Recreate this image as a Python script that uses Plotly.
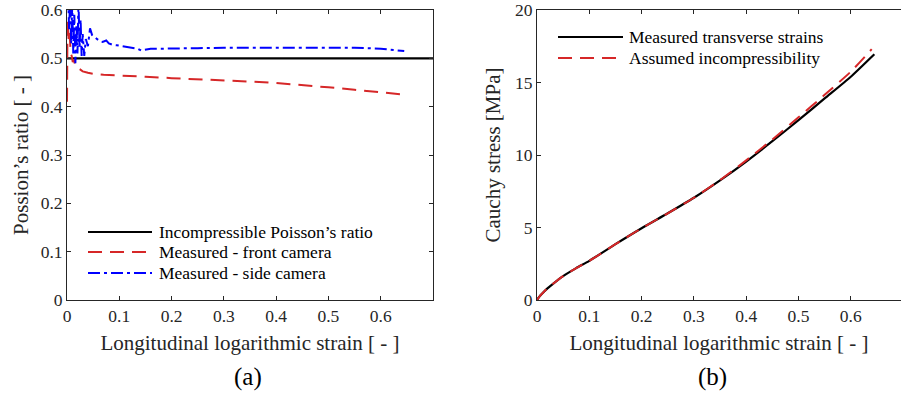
import plotly.graph_objects as go

# ---------------- data ----------------
# Panel (a): Poisson's ratio vs longitudinal log strain
x_incomp = [0.0, 0.7]
v_incomp = [0.5, 0.5]

x_front = [0.0, 0.001, 0.003, 0.005, 0.007, 0.009, 0.011, 0.013, 0.016, 0.02, 0.025, 0.03,
           0.04, 0.05, 0.07, 0.1, 0.15, 0.2, 0.25, 0.3, 0.35, 0.4, 0.45, 0.5, 0.55, 0.6, 0.645]
v_front = [0.41, 0.58, 0.54, 0.555, 0.51, 0.505, 0.492, 0.497, 0.485, 0.48, 0.477, 0.473,
           0.47, 0.468, 0.466, 0.464, 0.462, 0.459, 0.457, 0.455, 0.452, 0.449, 0.445, 0.44,
           0.435, 0.43, 0.425]

x_side = [0.0, 0.002, 0.004, 0.006, 0.008, 0.010, 0.012, 0.014, 0.016, 0.018, 0.020, 0.022,
          0.024, 0.026, 0.028, 0.030, 0.033, 0.036, 0.040, 0.044, 0.048, 0.052, 0.057, 0.062,
          0.068, 0.075, 0.080, 0.087, 0.095, 0.105, 0.115, 0.125, 0.135, 0.142, 0.150, 0.160,
          0.180, 0.200, 0.250, 0.300, 0.350, 0.400, 0.450, 0.500, 0.550, 0.600, 0.630, 0.645]
v_side = [0.60, 0.64, 0.56, 0.62, 0.53, 0.61, 0.51, 0.59, 0.49, 0.57, 0.51, 0.62,
          0.52, 0.58, 0.505, 0.55, 0.505, 0.54, 0.525, 0.562, 0.548, 0.545, 0.541, 0.536,
          0.534, 0.537, 0.531, 0.528, 0.527, 0.525, 0.523, 0.522, 0.520, 0.516, 0.518, 0.520,
          0.520, 0.520, 0.521, 0.522, 0.522, 0.523, 0.523, 0.523, 0.522, 0.520, 0.517, 0.515]

# Panel (b): Cauchy stress vs longitudinal log strain
x_meas = [0.0, 0.005, 0.01, 0.02, 0.03, 0.05, 0.075, 0.1, 0.15, 0.2, 0.25, 0.3, 0.35, 0.4,
          0.45, 0.5, 0.55, 0.6, 0.645]
s_meas = [0.0, 0.25, 0.45, 0.8, 1.1, 1.65, 2.2, 2.7, 3.85, 4.95, 5.98, 7.05, 8.25, 9.55,
          10.95, 12.4, 13.9, 15.4, 16.95]

x_incomp_b = [0.0, 0.005, 0.01, 0.02, 0.03, 0.05, 0.075, 0.1, 0.15, 0.2, 0.25, 0.3, 0.35,
              0.4, 0.45, 0.5, 0.55, 0.6, 0.64]
s_incomp_b = [0.0, 0.25, 0.45, 0.8, 1.1, 1.65, 2.2, 2.7, 3.85, 4.95, 5.98, 7.05, 8.27, 9.63,
              11.07, 12.6, 14.15, 15.75, 17.3]

xticks = [0, 0.1, 0.2, 0.3, 0.4, 0.5, 0.6]
xtick_labels = ["0", "0.1", "0.2", "0.3", "0.4", "0.5", "0.6"]
yticks_a = [0, 0.1, 0.2, 0.3, 0.4, 0.5, 0.6]
yticks_b = [0, 5, 10, 15, 20]

legend_a = ["Incompressible Poisson\u2019s ratio", "Measured - front camera", "Measured - side camera"]
legend_b = ["Measured transverse strains", "Assumed incompressibility"]

# ---------------- style ----------------
W, H = 901, 404
FONT = "Liberation Serif"
TXT = "#262626"
BLACK = "#000000"
RED = "#d62728"
BLUE = "#0000ff"
DASH_RED = "14px,8px"
DASH_BLUE = "12px,4px,3px,4px"

TOP, BOT = 10, 300
dom_a = [67 / W, 433 / W]
dom_b = [537 / W, 1.0]
dom_y = [1 - BOT / H, 1 - TOP / H]

fig = go.Figure()

fig.add_trace(go.Scatter(x=x_incomp, y=v_incomp, mode="lines", name=legend_a[0],
                         line=dict(color=BLACK, width=2.2), xaxis="x", yaxis="y"))
fig.add_trace(go.Scatter(x=x_front, y=v_front, mode="lines", name=legend_a[1],
                         line=dict(color=RED, width=2, dash=DASH_RED), xaxis="x", yaxis="y"))
fig.add_trace(go.Scatter(x=x_side, y=v_side, mode="lines", name=legend_a[2],
                         line=dict(color=BLUE, width=2, dash=DASH_BLUE), xaxis="x", yaxis="y"))

fig.add_trace(go.Scatter(x=x_meas, y=s_meas, mode="lines", name=legend_b[0], line_shape="spline",
                         line=dict(color=BLACK, width=2.2, smoothing=0.6), xaxis="x2", yaxis="y2"))
fig.add_trace(go.Scatter(x=x_incomp_b, y=s_incomp_b, mode="lines", name=legend_b[1], line_shape="spline",
                         line=dict(color=RED, width=2, dash=DASH_RED, smoothing=0.6), xaxis="x2", yaxis="y2"))

axis_common = dict(showgrid=False, zeroline=False, showline=True, linecolor=TXT, linewidth=1,
                   ticks="inside", ticklen=4, tickcolor=TXT, tickwidth=1,
                   ticklabeloverflow="allow",
                   tickfont=dict(family=FONT, size=17.5, color=TXT), automargin=False)

fig.update_layout(
    width=W, height=H,
    margin=dict(l=0, r=0, t=0, b=0),
    paper_bgcolor="white", plot_bgcolor="white",
    showlegend=False,
    font=dict(family=FONT, color=TXT),
    xaxis=dict(domain=dom_a, range=[0, 0.7], tickvals=xticks, ticktext=xtick_labels,
               mirror="ticks", anchor="y",
               title=dict(text="Longitudinal logarithmic strain [ - ]",
                          font=dict(family=FONT, size=21, color=TXT), standoff=10),
               **axis_common),
    yaxis=dict(domain=dom_y, range=[0, 0.6], tickvals=yticks_a, mirror="ticks", anchor="x",
               title=dict(text="Possion\u2019s ratio [ - ]",
                          font=dict(family=FONT, size=21, color=TXT), standoff=6),
               **axis_common),
    xaxis2=dict(domain=dom_b, range=[0, 0.696], tickvals=xticks, ticktext=xtick_labels,
                mirror="ticks", anchor="y2",
                title=dict(text="Longitudinal logarithmic strain [ - ]",
                           font=dict(family=FONT, size=21, color=TXT), standoff=10),
                **axis_common),
    yaxis2=dict(domain=dom_y, range=[0, 20], tickvals=yticks_b, mirror=False, anchor="x2",
                title=dict(text="Cauchy stress [MPa]",
                           font=dict(family=FONT, size=21, color=TXT), standoff=8),
                **axis_common),
)

# ---------------- custom legends (line samples + labels) ----------------
def legend_block(xref, yref, entries, x0, x1, ys, tx):
    for (label, color, dash, width), yy in zip(entries, ys):
        fig.add_shape(type="line", xref=xref, yref=yref, x0=x0, x1=x1, y0=yy, y1=yy,
                      line=dict(color=color, width=width, dash=dash))
        fig.add_annotation(xref=xref, yref=yref, x=tx, y=yy, text=label, showarrow=False,
                           xanchor="left", yanchor="middle",
                           font=dict(family=FONT, size=17.5, color=BLACK))

pw_a = 366.0
ph = float(BOT - TOP)
legend_block("x domain", "y domain",
             [(legend_a[0], BLACK, "solid", 2.2), (legend_a[1], RED, DASH_RED, 2),
              (legend_a[2], BLUE, DASH_BLUE, 2)],
             (88 - 67) / pw_a, (152 - 67) / pw_a,
             [(BOT - 232) / ph, (BOT - 252) / ph, (BOT - 273) / ph],
             (157 - 67) / pw_a)

pw_b = 364.0
legend_block("x2 domain", "y2 domain",
             [(legend_b[0], BLACK, "solid", 2.2), (legend_b[1], RED, DASH_RED, 2)],
             (558 - 537) / pw_b, (623 - 537) / pw_b,
             [(BOT - 37) / ph, (BOT - 58) / ph],
             (627 - 537) / pw_b)

# panel labels
for lab, xc in (("(a)", 248), ("(b)", 712)):
    fig.add_annotation(xref="paper", yref="paper", x=xc / W, y=1 - 377 / H, text=lab,
                       showarrow=False, xanchor="center", yanchor="middle",
                       font=dict(family=FONT, size=25, color=BLACK))

fig.write_html("out.html")
